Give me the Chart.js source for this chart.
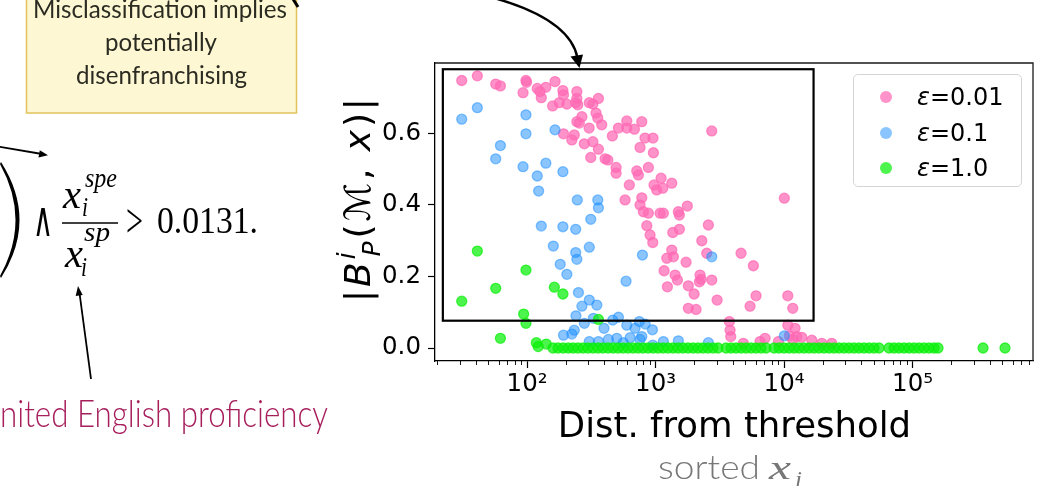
<!DOCTYPE html>
<html><head><meta charset="utf-8">
<script src="https://cdn.jsdelivr.net/npm/chart.js@4.4.1/dist/chart.umd.min.js"></script>
<style>
html,body{margin:0;padding:0;background:#fff;}
#wrap{position:relative;width:1061px;height:486px;overflow:hidden;background:#fff;}
#c{position:absolute;left:0;top:0;}
#ov{position:absolute;left:0;top:0;pointer-events:none;}
#legend{position:absolute;left:853px;top:74px;width:169px;height:113px;border:1.3px solid #d4d4d4;border-radius:5px;background:rgba(255,255,255,0.85);box-sizing:border-box;}
.li{position:absolute;left:0;height:30px;width:100%;}
.mk{position:absolute;left:26px;top:9px;width:12px;height:12px;border-radius:50%;}
.lt{position:absolute;left:63px;top:0;font-family:'DejaVu Sans',sans-serif;font-size:24px;line-height:30px;color:#000;white-space:nowrap;}
</style></head>
<body><div id="wrap">
<canvas id="c" width="1061" height="486"></canvas>
<svg id="ov" width="1061" height="486" viewBox="0 0 1061 486" xmlns="http://www.w3.org/2000/svg">
  <!-- yellow note box -->
  <rect x="26.5" y="-10" width="270" height="123" fill="#fdf7d3" stroke="#e3c25c" stroke-width="1.5"/>
  <g font-family="Lato, 'Open Sans', sans-serif" font-weight="400" font-size="25" fill="#2b2b22">
    <text x="33" y="18" textLength="254" lengthAdjust="spacingAndGlyphs">Misclassification implies</text>
    <text x="105" y="51" textLength="112" lengthAdjust="spacingAndGlyphs">potentially</text>
    <text x="76" y="84" textLength="171" lengthAdjust="spacingAndGlyphs">disenfranchising</text>
  </g>
  <path d="M293,-1 L298,7" stroke="#000" stroke-width="3"/>
  <!-- curved arrow to plot -->
  <path d="M470,-8 Q569,14 577.5,58" fill="none" stroke="#000" stroke-width="2.4"/>
  <polygon points="579.5,68 570.5,56.5 583,54.5" fill="#000"/>
  <!-- formula -->
  <path d="M1,162 Q38,220 1,278 L0,276 Q31,220 0,164 Z" fill="#000"/>
  <g font-family="'Liberation Serif','DejaVu Serif',serif" fill="#000">
    <text x="33" y="236" font-size="48" textLength="20" lengthAdjust="spacingAndGlyphs">∧</text>
    <text x="63" y="208" font-size="42" font-style="italic" textLength="18" lengthAdjust="spacingAndGlyphs">x</text>
    <text x="85" y="187" font-size="28" font-style="italic" textLength="32" lengthAdjust="spacingAndGlyphs">spe</text>
    <text x="82" y="216" font-size="28" font-style="italic" textLength="6" lengthAdjust="spacingAndGlyphs">i</text>
    <line x1="62" y1="223" x2="118" y2="223" stroke="#000" stroke-width="1.6"/>
    <text x="65" y="267" font-size="42" font-style="italic" textLength="18" lengthAdjust="spacingAndGlyphs">x</text>
    <text x="84" y="241" font-size="28" font-style="italic" textLength="26" lengthAdjust="spacingAndGlyphs">sp</text>
    <text x="81" y="276" font-size="28" font-style="italic" textLength="6" lengthAdjust="spacingAndGlyphs">i</text>
    <text x="126" y="237" font-size="48" textLength="17" lengthAdjust="spacingAndGlyphs">&gt;</text>
    <text x="157" y="233" font-size="37" textLength="101" lengthAdjust="spacingAndGlyphs">0.0131.</text>
  </g>
  <!-- small arrows -->
  <line x1="-2" y1="146.5" x2="42" y2="154" stroke="#000" stroke-width="1.8"/>
  <polygon points="48,155.2 38.5,157.4 39.8,150.2" fill="#000"/>
  <line x1="91" y1="379" x2="79.5" y2="293" stroke="#000" stroke-width="1.8"/>
  <polygon points="78,286 82.7,295 75.7,296" fill="#000"/>
  <!-- red label -->
  <text x="0" y="427" font-family="Lato, 'Open Sans', sans-serif" font-weight="300" font-size="38" fill="#a61e5c" textLength="328" lengthAdjust="spacingAndGlyphs">nited English proficiency</text>
  <!-- y axis title -->
  <text transform="translate(370,200) rotate(-90)" text-anchor="middle" font-family="'DejaVu Sans',sans-serif" font-size="36" fill="#000" textLength="204" lengthAdjust="spacing">|<tspan font-style="italic">B</tspan><tspan font-size="25" font-style="italic" dy="-15">i</tspan><tspan font-size="25" font-style="italic" dx="-7" dy="25">P</tspan><tspan dy="-10">(ℳ, </tspan><tspan font-style="italic">x</tspan>)|</text>
  <!-- x axis title -->
  <text x="734.5" y="437" text-anchor="middle" font-family="'DejaVu Sans',sans-serif" font-size="35.5" fill="#000">Dist. from threshold</text>
  <!-- sorted x_i -->
  <text x="658" y="479" font-family="Lato, 'Open Sans', sans-serif" font-weight="300" font-size="33" fill="#777" textLength="102" lengthAdjust="spacingAndGlyphs">sorted</text>
  <text x="769" y="479" font-family="'Liberation Serif','DejaVu Serif',serif" font-style="italic" font-size="34" fill="#777" textLength="22" lengthAdjust="spacingAndGlyphs">x</text>
  <text x="795" y="487" font-family="'Liberation Serif','DejaVu Serif',serif" font-style="italic" font-size="24" fill="#777" textLength="7" lengthAdjust="spacingAndGlyphs">i</text>
</svg>
<div id="legend"></div>
</div>
<script>
// ---- data ----
const seriesLabels = ['ε=0.01', 'ε=0.1', 'ε=1.0'];

const eps001X = [31,41,57,62,98,99,93,120,126,140,129,165,190,192,244,244,158,178,204,239,248,305,325,359,267,244,255,304,344,355,381,192,223,233,279,325,359,313,405,425,493,493,461,514,597,597,684,781,828,955,757,962,879,714,735,625,579,781,757,879,973,855,906,2737,1104,1337,1021,1138,804,1084,1150,1504,1532,1767,1361,1532,2576,2290,10050,951,2502,1337,1223,1376,1727,4627,5770,1165,1419,1479,2219,2260,2193,2737,1799,1236,1995,3013,1799,2065,6055,5436,10690,11690,3751,3800,3846,4822,6503,7113,10690,12180,13730,12550,10990,11690,16430,19640,23500,9036];
const eps001Y = [0.748,0.761,0.738,0.733,0.748,0.743,0.714,0.726,0.717,0.729,0.700,0.745,0.720,0.708,0.717,0.698,0.677,0.686,0.682,0.686,0.680,0.686,0.682,0.698,0.647,0.633,0.629,0.615,0.657,0.643,0.624,0.599,0.582,0.596,0.571,0.577,0.556,0.533,0.529,0.526,0.505,0.489,0.593,0.615,0.635,0.615,0.612,0.633,0.587,0.587,0.561,0.546,0.505,0.495,0.484,0.456,0.414,0.420,0.400,0.377,0.456,0.342,0.316,0.607,0.475,0.461,0.442,0.447,0.381,0.377,0.377,0.381,0.372,0.397,0.323,0.332,0.344,0.300,0.419,0.295,0.265,0.274,0.251,0.255,0.240,0.265,0.230,0.216,0.204,0.190,0.204,0.192,0.185,0.190,0.174,0.171,0.151,0.134,0.111,0.108,0.146,0.117,0.146,0.111,0.074,0.050,0.032,0.013,0.018,0.027,0.064,0.055,0.030,0.032,0.034,0.024,0.022,0.013,0.013,0.018];

const eps01X = [31,41,98,98,165,62,57,93,140,120,190,123,246,355,359,313,129,190,239,160,239,244,305,181,204,790,589,251,305,267,349,240,279,328,397,464,514,597,692,748,830,945,192,223,233,429,499,634,757,561,305,359,951,2737,781,1150,1504,2576,10050];
const eps01Y = [0.640,0.672,0.652,0.599,0.610,0.566,0.529,0.507,0.517,0.481,0.493,0.439,0.414,0.414,0.392,0.360,0.341,0.339,0.332,0.285,0.267,0.248,0.282,0.234,0.206,0.260,0.187,0.155,0.134,0.117,0.120,0.090,0.069,0.083,0.055,0.078,0.086,0.064,0.055,0.074,0.067,0.051,0.036,0.039,0.050,0.024,0.027,0.029,0.024,0.015,0.018,0.018,0.008,0.255,0.032,0.018,0.020,0.015,0.034];

const eps1X = [41,98,57,31,163,190,94,98,62,359,118,122,141,
  159,174,191,209,228,249,273,298,326,357,390,427,467,511,559,611,668,731,799,874,956,1046,1144,1251,1368,1497,1637,1790,1958,2141,2342,2562,2802,3064,
  3538,3869,4232,4628,5062,5536,6055,6622,7243,
  8361,9144,10000,10937,11962,13083,14309,15650,17117,18721,20475,22394,24493,26788,29299,32045,35048,38335,41927,45857,50154,54855,
  65618,71770,78496,85868,93930,102700,112330,122860,134370,146970,157900,
  353700,524600];
const eps1Y = [0.271,0.218,0.167,0.131,0.170,0.151,0.095,0.069,0.027,0.080,0.015,0.004,0.011,
  0,0,0,0,0,0,0,0,0,0,0,0,0,0,0,0,0,0,0,0,0,0,0,0,0,0,0,0,0,0,0,0,0,0,
  0,0,0,0,0,0,0,0,0,
  0,0,0,0,0,0,0,0,0,0,0,0,0,0,0,0,0,0,0,0,0,0,
  0,0,0,0,0,0,0,0,0,0,0,
  0,0];

const xTickValues = [100, 1000, 10000, 100000];
const xTickLabels = ['10²', '10³', '10⁴', '10⁵'];
const yTickValues = [0, 0.2, 0.4, 0.6];
const yTickLabels = ['0.0', '0.2', '0.4', '0.6'];
const xRange = [19.2, 866000];
const yRange = [-0.0363, 0.797];
// highlighted rectangle (data coordinates)
const boxX = [22.1, 16970];
const boxY = [0.0764, 0.7796];

// ---- styles ----
const fills = ['rgba(255,105,180,0.72)', 'rgba(30,144,255,0.52)', 'rgba(10,240,10,0.72)'];

function pts(xs, ys) { return xs.map((v, i) => ({x: v, y: ys[i]})); }

const framePlugin = {
  id: 'frameAndBox',
  afterDatasetsDraw(chart) {
    const {ctx, chartArea: a, scales: {x, y}} = chart;
    ctx.save();
    ctx.strokeStyle = '#000';
    ctx.lineWidth = 2.2;
    const l = x.getPixelForValue(boxX[0]), r = x.getPixelForValue(boxX[1]);
    const t = y.getPixelForValue(boxY[1]), b = y.getPixelForValue(boxY[0]);
    ctx.strokeRect(l, t, r - l, b - t);
    ctx.strokeStyle = '#1a1a1a';
    ctx.lineWidth = 1.3;
    ctx.beginPath();
    ctx.moveTo(a.left, a.top); ctx.lineTo(a.right, a.top); ctx.lineTo(a.right, a.bottom);
    ctx.stroke();
    ctx.restore();
  },
  afterDraw(chart) {
    const {ctx, chartArea: a, scales: {x}} = chart;
    ctx.save();
    ctx.strokeStyle = '#000';
    ctx.lineWidth = 0.9;
    for (let e = 1; e <= 5; e++) {
      for (let m = 2; m <= 9; m++) {
        const v = m * Math.pow(10, e);
        if (v < x.min || v > x.max) continue;
        const px = Math.round(x.getPixelForValue(v)) + 0.5;
        ctx.beginPath(); ctx.moveTo(px, a.bottom); ctx.lineTo(px, a.bottom + 4); ctx.stroke();
      }
    }
    ctx.restore();
  }
};

const tickFont = {family: 'DejaVu Sans', size: 24.5};

new Chart(document.getElementById('c'), {
  type: 'scatter',
  data: {
    datasets: [
      {label: seriesLabels[0], data: pts(eps001X, eps001Y), backgroundColor: fills[0], borderColor: fills[0], borderWidth: 1.3, pointRadius: 5, order: 3},
      {label: seriesLabels[1], data: pts(eps01X, eps01Y), backgroundColor: fills[1], borderColor: fills[1], borderWidth: 1.3, pointRadius: 5, order: 2},
      {label: seriesLabels[2], data: pts(eps1X, eps1Y), backgroundColor: fills[2], borderColor: fills[2], borderWidth: 1.3, pointRadius: 5, order: 1}
    ]
  },
  options: {
    responsive: false,
    devicePixelRatio: 1,
    animation: false,
    layout: {padding: {left: 0, top: 63, right: 28, bottom: 0}},
    plugins: {legend: {display: false}, tooltip: {enabled: false}},
    scales: {
      x: {
        type: 'logarithmic', position: 'bottom', min: xRange[0], max: xRange[1], bounds: 'data',
        afterBuildTicks: s => { s.ticks = xTickValues.map(v => ({value: v})); },
        afterFit: s => { s.height = 125; },
        ticks: {callback: (v, i) => xTickLabels[i], font: tickFont, color: '#000', padding: 2, maxRotation: 0, autoSkip: false},
        grid: {drawOnChartArea: false, tickLength: 7, tickColor: '#000', tickWidth: 1.2},
        border: {color: '#000', width: 1.3}
      },
      y: {
        type: 'linear', position: 'left', min: yRange[0], max: yRange[1],
        afterBuildTicks: s => { s.ticks = yTickValues.map(v => ({value: v})); },
        afterFit: s => { s.width = 435; },
        ticks: {callback: (v, i) => yTickLabels[i], font: tickFont, color: '#000', padding: 7, autoSkip: false},
        grid: {drawOnChartArea: false, tickLength: 7, tickColor: '#000', tickWidth: 1.2},
        border: {color: '#000', width: 1.3}
      }
    }
  },
  plugins: [framePlugin]
});

// legend
const lg = document.getElementById('legend');
seriesLabels.forEach((lab, i) => {
  const it = document.createElement('div');
  it.className = 'li';
  it.style.top = (7 + i * 35.5) + 'px';
  const mk = document.createElement('div');
  mk.className = 'mk';
  mk.style.background = fills[i];
  const tx = document.createElement('div');
  tx.className = 'lt';
  tx.innerHTML = '<i>' + lab.charAt(0) + '</i>' + lab.slice(1);
  it.appendChild(mk); it.appendChild(tx);
  lg.appendChild(it);
});
</script>
</body></html>
